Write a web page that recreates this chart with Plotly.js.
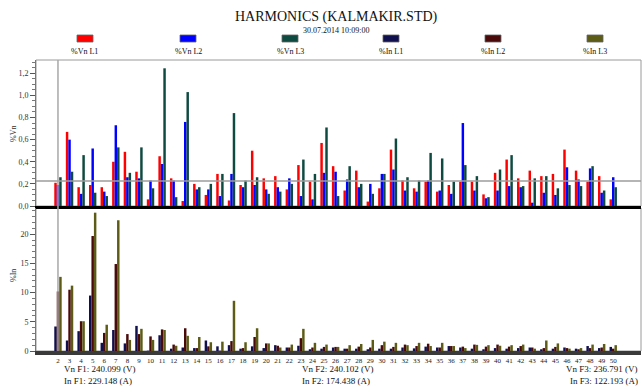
<!DOCTYPE html>
<html>
<head>
<meta charset="utf-8">
<script src="https://cdn.plot.ly/plotly-3.0.1.min.js"></script>
<style>
  html, body { margin: 0; padding: 0; background: #fff; }
  #chart { width: 643px; height: 387px; }
</style>
</head>
<body>
<div id="chart"></div>
<script>
// Harmonic orders shown on the axis
const harmonics = [2,3,4,5,6,7,8,9,10,11,12,13,14,15,16,17,18,19,20,21,22,23,24,25,26,
                   27,28,29,30,31,32,33,34,35,36,37,38,39,40,41,42,43,44,45,46,47,48,49,50];

// Voltage harmonics, % of fundamental
const vnL1 = [0.21,0.67,0.17,0.19,0.17,0.40,0.49,0.31,0.06,0.45,0.25,0.045,0.20,0.10,0.29,0.05,0.19,0.50,0.25,0.27,
              0.15,0.37,0.22,0.57,0.36,0.14,0.32,0.04,0.16,0.51,0.23,0.16,0.22,0.13,0.19,0.22,0.22,0.105,0.30,0.42,
              0.25,0.32,0.27,0.29,0.51,0.32,0.22,0.27,0.06];
const vnL2 = [0.19,0.60,0.11,0.52,0.13,0.73,0.26,0.25,0.23,0.38,0.23,0.76,0.15,0.15,0.09,0.29,0.17,0.19,0.15,0.17,
              0.25,0.09,0.06,0.30,0.31,0.24,0.17,0.20,0.29,0.33,0.14,0.13,0.23,0.14,0.11,0.75,0.14,0.07,0.14,0.18,
              0.17,0.03,0.12,0.10,0.35,0.24,0.34,0.12,0.26];
const vnL3 = [0.26,0.31,0.46,0.12,0.09,0.53,0.30,0.53,0.16,1.245,0.08,1.03,0.17,0.20,0.29,0.84,0.23,0.26,0.11,0.13,
              0.20,0.42,0.29,0.71,0.09,0.36,0.20,0.11,0.29,0.61,0.26,0.23,0.48,0.43,0.22,0.37,0.27,0.08,0.33,0.46,
              0.18,0.25,0.27,0.16,0.19,0.18,0.36,0.14,0.17];

// Current harmonics, % of fundamental
const inL1 = [4.2,1.8,3.4,9.5,1.4,3.6,1.3,4.3,0.05,2.7,0.4,0.6,0.5,1.8,0.8,1.0,0.4,0.8,0.5,1.0,
              0.6,0.9,0.3,0.4,0.6,0.4,0.4,0.3,0.4,0.4,0.6,0.45,0.75,0.6,0.85,0.6,0.4,0.3,0.5,0.4,
              0.5,0.6,0.3,0.4,0.6,0.4,0.85,0.5,0.7];
const inL2 = [10.2,10.5,5.1,19.7,3.1,14.9,2.9,2.9,2.5,3.7,1.1,3.9,0.5,0.8,0.05,1.7,0.5,2.4,1.3,0.9,
              0.6,2.2,0.6,0.7,0.7,0.4,0.75,0.6,1.0,0.7,1.1,0.85,1.25,0.6,0.85,0.75,1.1,0.75,1.1,0.75,
              0.85,0.6,0.5,0.7,0.5,0.3,0.5,0.6,0.4];
const inL3 = [12.7,11.2,5.1,23.7,4.5,22.4,1.9,3.8,1.9,3.6,0.9,2.6,2.4,1.5,1.6,8.6,1.5,3.9,1.3,0.6,
              1.1,3.8,1.4,1.1,0.7,1.0,1.2,1.9,1.6,1.4,1.0,1.4,0.85,1.4,0.85,0.5,1.05,1.0,0.9,1.0,
              1.1,0.4,1.8,1.3,0.4,0.5,1.1,1.2,1.0];

const seriesNames = ['%Vn L1','%Vn L2','%Vn L3','%In L1','%In L2','%In L3'];
const seriesColors = ['#ff0000','#0000ff','#0e4a40','#10104e','#4a0a0a','#5c5c16'];
const limitLevel = 0.225;   // %Vn reference level
const cursorHarmonic = 2;

const titleText = 'HARMONICS (KALMAKIR.STD)';
const subtitleText = '30.07.2014 10:09:00';
const footerLeft = ['Vn F1: 240.099 (V)', 'In F1: 229.148 (A)'];
const footerMid = ['Vn F2: 240.102 (V)', 'In F2: 174.438 (A)'];
const footerRight = ['Vn F3: 236.791 (V)', 'In F3: 122.193 (A)'];

const W = 643, H = 387;
const px = v => v / W;
const py = v => 1 - v / H;
const SERIF = '"Liberation Serif", "DejaVu Serif", serif';

const topVals = [vnL1, vnL2, vnL3];
const botVals = [inL1, inL2, inL3];

const traces = [];
topVals.forEach((vals, i) => traces.push({
  type: 'bar', x: harmonics, y: vals, name: seriesNames[i],
  marker: { color: seriesColors[i], line: { width: 0 } },
  xaxis: 'x', yaxis: 'y', hoverinfo: 'x+y'
}));
botVals.forEach((vals, i) => traces.push({
  type: 'bar', x: harmonics, y: vals, name: seriesNames[i + 3],
  marker: { color: seriesColors[i + 3], line: { width: 0 } },
  xaxis: 'x2', yaxis: 'y2', hoverinfo: 'x+y'
}));

const xDom = [px(36), px(641)];
const xRange = [0.1, 52.4];

const shapes = [
  // panel frames
  { type: 'rect', xref: 'paper', yref: 'paper', x0: xDom[0], x1: xDom[1], y0: py(206), y1: py(60),
    line: { color: '#9a9a9a', width: 1 }, layer: 'below' },
  { type: 'rect', xref: 'paper', yref: 'paper', x0: xDom[0], x1: xDom[1], y0: py(351), y1: py(208),
    line: { color: '#9a9a9a', width: 1 }, layer: 'below' },
  // reference level on the voltage panel
  { type: 'line', xref: 'paper', yref: 'y', x0: xDom[0], x1: xDom[1], y0: limitLevel, y1: limitLevel,
    line: { color: '#9c9c9c', width: 1.5 } },
  // harmonic cursor through both panels
  { type: 'line', xref: 'x', yref: 'paper', x0: cursorHarmonic, x1: cursorHarmonic, y0: py(351), y1: py(60),
    line: { color: '#a8a8a8', width: 1.5 } }
];

const annotations = [
  { text: titleText, xref: 'paper', yref: 'paper', x: px(336), y: py(17), showarrow: false,
    font: { family: SERIF, size: 14, color: '#111' }, xanchor: 'center', yanchor: 'middle' },
  { text: subtitleText, xref: 'paper', yref: 'paper', x: px(336), y: py(30), showarrow: false,
    font: { family: SERIF, size: 8, color: '#111' }, xanchor: 'center', yanchor: 'middle' },
  { text: '%Vn', xref: 'paper', yref: 'paper', x: px(13), y: py(134), showarrow: false, textangle: -90,
    font: { family: SERIF, size: 8, color: '#333' }, xanchor: 'center', yanchor: 'middle' },
  { text: '%In', xref: 'paper', yref: 'paper', x: px(13), y: py(276), showarrow: false, textangle: -90,
    font: { family: SERIF, size: 8, color: '#333' }, xanchor: 'center', yanchor: 'middle' }
];

// legend: swatch above each label
const legendX = [85, 188, 290, 391, 493, 595];
seriesNames.forEach((name, i) => {
  shapes.push({ type: 'rect', xref: 'paper', yref: 'paper',
    x0: px(legendX[i] - 8), x1: px(legendX[i] + 8), y0: py(42), y1: py(35),
    fillcolor: seriesColors[i], line: { color: '#666', width: 0.8 } });
  annotations.push({ text: name, xref: 'paper', yref: 'paper', x: px(legendX[i]), y: py(52),
    showarrow: false, font: { family: SERIF, size: 8, color: '#111' }, xanchor: 'center', yanchor: 'middle' });
});

// fundamentals under the chart
const footFont = { family: SERIF, size: 9, color: '#111' };
[[footerLeft, 62, 'left'], [footerMid, 300, 'left'], [footerRight, 640, 'right']].forEach(([lines, x, anchor]) => {
  lines.forEach((t, k) => annotations.push({
    text: t, xref: 'paper', yref: 'paper', x: px(x), y: py(369 + k * 12), showarrow: false,
    font: footFont, xanchor: anchor, yanchor: 'middle' }));
});

const tickFont = { family: SERIF, size: 8, color: '#333' };

const layout = {
  width: W, height: H,
  margin: { l: 0, r: 0, t: 0, b: 0 },
  paper_bgcolor: '#fff', plot_bgcolor: '#fff',
  showlegend: false,
  separators: ',.',
  barmode: 'group', bargap: 0.36, bargroupgap: 0,
  xaxis: {
    domain: xDom, anchor: 'y', range: xRange, showticklabels: false, ticks: '',
    showgrid: false, zeroline: false, showline: true, linecolor: '#000', linewidth: 3
  },
  yaxis: {
    domain: [py(206), py(60)], anchor: 'x', range: [0, 1.32],
    tickvals: [0, 0.2, 0.4, 0.6, 0.8, 1.0, 1.2], tickformat: '.1f',
    ticks: 'outside', ticklen: 5, tickcolor: '#555', tickwidth: 1,
    minor: { dtick: 0.05, ticks: 'outside', ticklen: 3, tickcolor: '#777', showgrid: false },
    showgrid: false, zeroline: false, showline: true, linecolor: '#777', linewidth: 1,
    tickfont: tickFont
  },
  xaxis2: {
    domain: xDom, anchor: 'y2', range: xRange, matches: 'x',
    tickvals: harmonics, ticktext: harmonics.map(String), ticks: '',
    tickfont: { family: SERIF, size: 7, color: '#222' }, tickangle: 0,
    showgrid: false, zeroline: false, showline: true, linecolor: '#3a3a3a', linewidth: 4
  },
  yaxis2: {
    domain: [py(351), py(208)], anchor: 'x2', range: [0, 24.5],
    tickvals: [0, 5, 10, 15, 20],
    ticks: 'outside', ticklen: 5, tickcolor: '#555', tickwidth: 1,
    minor: { dtick: 1, ticks: 'outside', ticklen: 3, tickcolor: '#777', showgrid: false },
    showgrid: false, zeroline: false, showline: true, linecolor: '#777', linewidth: 1,
    tickfont: tickFont
  },
  shapes: shapes,
  annotations: annotations
};

Plotly.newPlot('chart', traces, layout, { staticPlot: true, displayModeBar: false });
</script>
</body>
</html>
